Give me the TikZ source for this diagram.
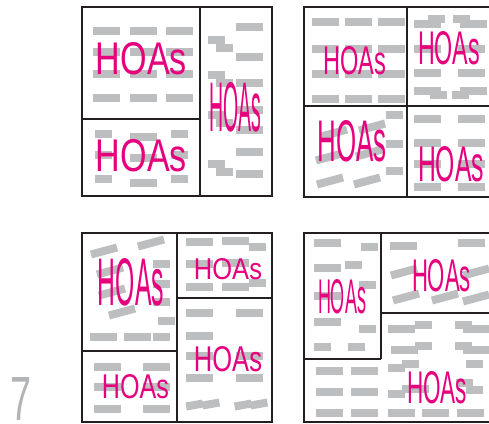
\documentclass[tikz,border=0pt]{standalone}
\usepackage{fontspec}
\setsansfont{Liberation Sans}
\usepackage{graphicx}
\definecolor{hoapink}{RGB}{230,0,126}
\definecolor{lotgray}{RGB}{188,190,192}
\definecolor{plotline}{RGB}{35,31,32}
\definecolor{numgray}{RGB}{178,180,183}
\tikzset{
  lot/.style={fill=lotgray},
  plotedge/.style={draw=plotline, line width=2.8pt},
  hoalabel/.style={text=hoapink, inner sep=0pt, font=\sffamily},
  pagenum/.style={text=numgray, inner sep=0pt, font=\sffamily},
}
\newcommand{\lotw}[2]{\fill[lot] (#1,#2) rectangle ++(27,8);}
\newcommand{\lotn}[2]{\fill[lot] (#1,#2) rectangle ++(17,8);}
\newcommand{\lott}[3]{\fill[lot, shift={(#1,#2)}, rotate=#3] (-13.5,-4) rectangle (13.5,4);}
\newcommand{\lottn}[3]{\fill[lot, shift={(#1,#2)}, rotate=#3] (-8.5,-4) rectangle (8.5,4);}
\newcommand{\hoas}[5]{\node[hoalabel] (#1) at (#2,#3) {\resizebox{#4pt}{#5pt}{HOAs}};}

\begin{document}
\begin{tikzpicture}[x=1pt,y=-1pt]
\useasboundingbox (0,0) rectangle (489,423);
\node[pagenum] (pg) at (21.5,398.5) {\resizebox{21pt}{43pt}{7}};

\begin{scope}
\clip (0,0) rectangle (489,423);

% plan 1
\foreach \y in {27,48,70,94} \foreach \x in {93,130,166} {\lotw{\x}{\y}}
\lotn{95}{130} \lotw{130}{133} \lotn{171}{130}
\lotn{95}{151} \lotw{130}{154} \lotn{171}{151}
\lotn{95}{175} \lotw{130}{179} \lotn{171}{175}
\foreach \y in {23,53,79,106,126,148,170} {\lotw{236}{\y}}
\foreach \y in {36,71,111,160} {\lotn{208}{\y} \lotn{216}{\y+8}}
\hoas{p1a}{141.5}{59}{91}{32}
\hoas{p1b}{141.5}{156}{91}{32}
\hoas{p1c}{235}{107}{52}{49}
\draw[plotedge] (82,7) rectangle (272,196);
\draw[plotedge] (200,7) -- (200,196);
\draw[plotedge] (82,119) -- (200,119);

% plan 2
\foreach \y in {18,45,70,95} \foreach \x in {312,345,378} {\lotw{\x}{\y}}
\lotw{414}{20} \lotn{428}{15} \lotn{453}{15} \lotw{460}{20}
\lotw{414}{45} \lotw{458}{45} \lotw{414}{69} \lotw{458}{69}
\lotw{414}{87} \lotn{430}{91} \lotn{452}{91} \lotw{460}{87}
\lott{334}{133}{15} \lott{372}{127}{15}
\lott{329}{157}{15} \lott{369}{153}{15}
\lott{330}{181}{15} \lott{367}{181}{15}
\lotn{386}{111} \lotn{386}{140} \lotn{386}{167}
\foreach \y in {115,139,160,183} {\lotw{414}{\y} \lotw{458}{\y}}
\hoas{p2a}{354.5}{61}{63}{28}
\hoas{p2b}{449}{48.5}{62}{33}
\hoas{p2c}{352}{141}{69}{41}
\hoas{p2d}{451}{164.5}{66}{35}
\draw[plotedge] (304,7) rectangle (491,197);
\draw[plotedge] (407,7) -- (407,197);
\draw[plotedge] (304,106) -- (491,106);

% plan 3
\lott{104}{251}{15} \lott{151}{243}{15} \lott{110}{271}{15}
\lott{112}{292}{15} \lott{122}{312}{15}
\lotn{153}{260} \lotn{153}{280} \lotn{153}{298} \lotn{158}{317}
\lotw{90}{333} \lotw{124}{333} \lotn{153}{333}
\foreach \y in {363,383,405} {\lotw{94}{\y} \lotw{143}{\y}}
\lotw{186}{238} \lotw{222}{237} \lotn{249}{243}
\lotw{186}{260} \lotw{222}{259} \lotn{249}{279}
\lotw{186}{283} \lotw{222}{283}
\foreach \y in {309,352,374} {\lotw{186}{\y} \lotw{236}{\y}}
\lotw{186}{332}
\lottn{194.5}{405}{10} \lottn{211}{404}{10} \lottn{243}{405}{10} \lottn{259}{404}{10}
\hoas{p3a}{131}{282}{66}{47}
\hoas{p3b}{135.5}{387}{67}{24}
\hoas{p3c}{228}{269.5}{68}{21}
\hoas{p3d}{228}{359.5}{68}{25}
\draw[plotedge] (82,233) rectangle (272,422);
\draw[plotedge] (177,233) -- (177,422);
\draw[plotedge] (82,351) -- (177,351);
\draw[plotedge] (177,298) -- (272,298);

% plan 4
\lotw{314}{239} \lotn{361}{243} \lotw{314}{264} \lotn{345}{261}
\lotn{359}{281} \lotw{314}{292} \lotw{314}{318} \lotn{359}{325}
\lotn{314}{343} \lotn{348}{343}
\lotw{390}{242} \lotw{458}{239}
\lott{404}{272}{15} \lott{406}{297}{15} \lott{445}{297}{15}
\lott{476}{272}{15} \lott{476}{298}{15}
\foreach \y in {367,388} {\lotw{316}{\y} \lotw{351}{\y}}
\foreach \x in {316,351,388,422,457} {\lotw{\x}{409}}
\lotw{388}{325} \lotn{415}{321} \lotn{455}{321} \lotw{463}{325}
\lotw{391}{346} \lotn{415}{342} \lotn{455}{342} \lotw{463}{346}
\lotn{388}{364} \lotn{402}{360} \lotn{466}{360}
\lotn{388}{390} \lotw{402}{385} \lotn{456}{379} \lotn{466}{386}
\hoas{p4a}{342}{297}{48}{34}
\hoas{p4b}{441.5}{276}{59}{32}
\hoas{p4c}{437}{388}{60}{32}
\draw[plotedge] (304,233) rectangle (491,422);
\draw[plotedge] (381,233) -- (381,359);
\draw[plotedge] (304,359) -- (381,359);
\draw[plotedge] (381,313) -- (491,313);
\end{scope}
\end{tikzpicture}
\end{document}
